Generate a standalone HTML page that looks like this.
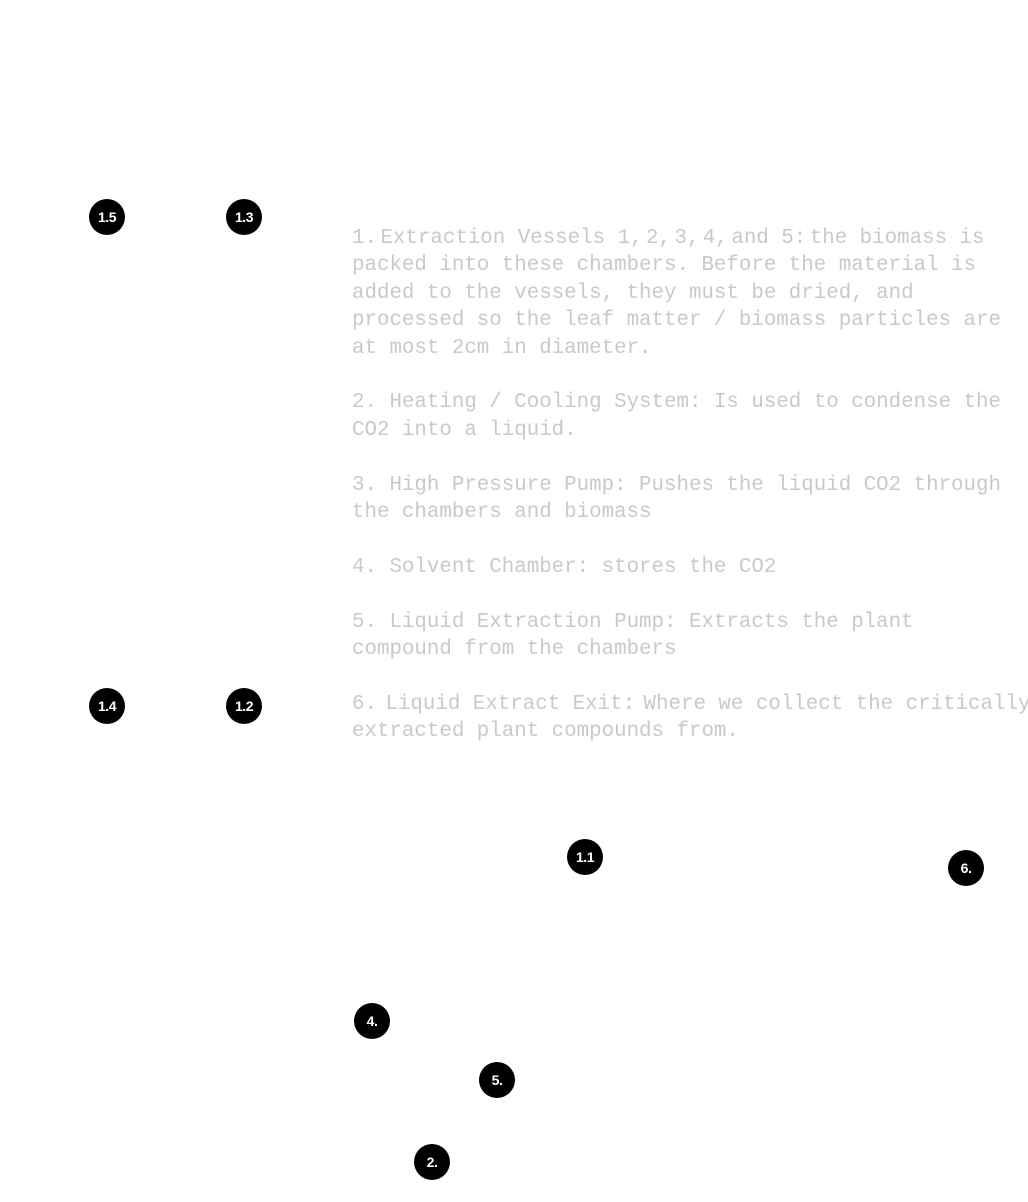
<!DOCTYPE html>
<html><head><meta charset="utf-8"><style>
html,body{margin:0;padding:0;background:#fff;width:1028px;height:1202px;overflow:hidden;position:relative}
pre{position:absolute;left:352px;top:225px;margin:0;font-family:"Liberation Mono",monospace;font-size:20.8px;line-height:27.4px;color:#c9c9c9;letter-spacing:0}
pre i{font-style:normal;letter-spacing:-9px}
pre b{font-weight:normal;letter-spacing:-4px}
.c{position:absolute;width:36px;height:36px;border-radius:50%;background:#000;color:#fff;font-family:"Liberation Sans",sans-serif;font-weight:bold;font-size:14px;line-height:36px;text-align:center;letter-spacing:-0.5px}
</style></head><body>
<pre>1<i>.</i> Extraction Vessels 1<i>,</i> 2<i>,</i> 3<i>,</i> 4<i>,</i> and 5<i>:</i> the biomass is
packed into these chambers. Before the material is
added to the vessels, they must be dried, and
processed so the leaf matter / biomass particles are
at most 2cm in diameter.

2. Heating / Cooling System: Is used to condense the
CO2 into a liquid.

3. High Pressure Pump: Pushes the liquid CO2 through
the chambers and biomass

4. Solvent Chamber: stores the CO2

5. Liquid Extraction Pump: Extracts the plant
compound from the chambers

6<b>.</b> Liquid Extract Exit<b>:</b> Where we collect the critically
extracted plant compounds from.</pre>
<div class="c" style="left:89px;top:199px">1.5</div>
<div class="c" style="left:226px;top:199px">1.3</div>
<div class="c" style="left:89px;top:688px">1.4</div>
<div class="c" style="left:226px;top:688px">1.2</div>
<div class="c" style="left:567px;top:839px">1.1</div>
<div class="c" style="left:948px;top:850px">6.</div>
<div class="c" style="left:354px;top:1003px">4.</div>
<div class="c" style="left:479px;top:1062px">5.</div>
<div class="c" style="left:414px;top:1144px">2.</div>
</body></html>
